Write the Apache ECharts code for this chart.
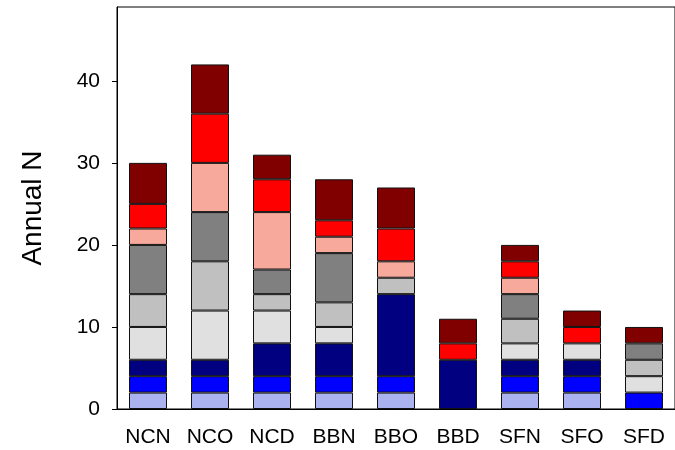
<!DOCTYPE html>
<html>
<head>
<meta charset="utf-8">
<script src="https://cdn.jsdelivr.net/npm/echarts@6/dist/echarts.min.js"></script>
<style>
html,body{margin:0;padding:0;background:#fff;}
#chart{width:675px;height:450px;}
</style>
</head>
<body>
<div id="chart"></div>
<script>
var categories = ['NCN','NCO','NCD','BBN','BBO','BBD','SFN','SFO','SFD'];
var lavender  = [2,2,2,2,2,0,2,2,0];
var blue      = [2,2,2,2,2,0,2,2,2];
var navy      = [2,2,4,4,10,6,2,2,0];
var lightGrey = [4,6,4,2,0,0,2,2,2];
var midGrey   = [4,6,2,3,2,0,3,0,2];
var darkGrey  = [6,6,3,6,0,0,3,0,2];
var pink      = [2,6,7,2,2,0,2,0,0];
var red       = [3,6,4,2,4,2,2,2,0];
var darkRed   = [5,6,3,5,5,3,2,2,2];
var yTicks = [0,10,20,30,40];

var layers = [
  {d: lavender,  c: '#aab2ef'},
  {d: blue,      c: '#0000ff'},
  {d: navy,      c: '#000080'},
  {d: lightGrey, c: '#e0e0e0'},
  {d: midGrey,   c: '#c0c0c0'},
  {d: darkGrey,  c: '#808080'},
  {d: pink,      c: '#f7a99c'},
  {d: red,       c: '#ff0000'},
  {d: darkRed,   c: '#800000'}
];

var font = '"Liberation Sans", Arial, sans-serif';
var chart = echarts.init(document.getElementById('chart'));
chart.setOption({
  animation: false,
  grid: {left: 117, right: -11, top: 7, bottom: 41, show: true, borderColor: '#000', borderWidth: 1, backgroundColor: 'transparent'},
  xAxis: {
    type: 'category',
    data: categories,
    axisLine: {lineStyle: {color: '#000', width: 1}},
    axisTick: {alignWithLabel: true, length: 5, lineStyle: {color: '#000'}},
    axisLabel: {color: '#000', fontSize: 21, fontFamily: font, margin: 18, interval: 0}
  },
  yAxis: {
    type: 'value',
    min: 0, max: 49, interval: 10,
    name: 'Annual N',
    nameLocation: 'middle',
    nameGap: 70,
    nameTextStyle: {color: '#000', fontSize: 28, fontFamily: font},
    axisLine: {show: true, lineStyle: {color: '#000', width: 1}},
    axisTick: {show: true, length: 5, lineStyle: {color: '#000'}, customValues: yTicks},
    axisLabel: {color: '#000', fontSize: 21, fontFamily: font, margin: 17, customValues: yTicks},
    splitLine: {show: false}
  },
  series: layers.map(function (l) {
    return {
      type: 'bar',
      stack: 'total',
      barWidth: 38,
      data: l.d.map(function (v) { return v === 0 ? null : v; }),
      itemStyle: {color: l.c, borderColor: '#111', borderWidth: 1}
    };
  })
});
</script>
</body>
</html>
